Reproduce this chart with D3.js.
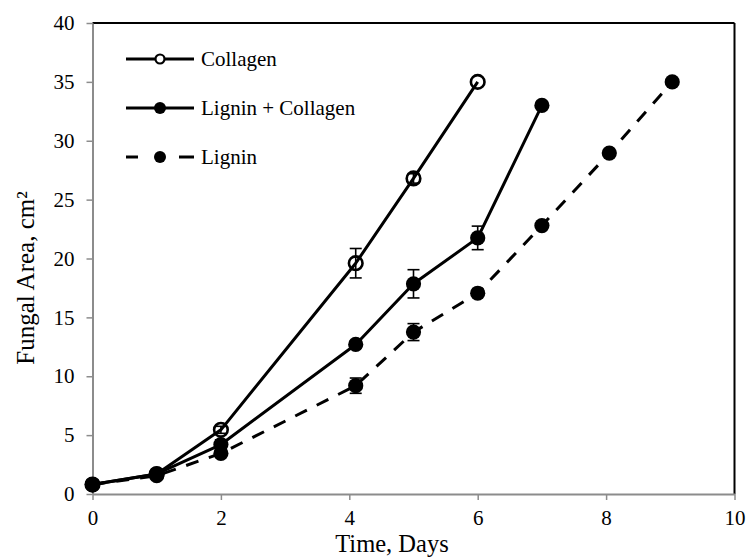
<!DOCTYPE html>
<html>
<head>
<meta charset="utf-8">
<script src="https://cdn.jsdelivr.net/npm/d3@7"></script>
<style>
  html, body { margin: 0; padding: 0; background: #fff; }
  svg { display: block; font-family: "Liberation Serif", "Times New Roman", serif; }
</style>
</head>
<body>
<svg id="chart" width="749" height="557"></svg>
<script>
// Fungal growth area over time for three substrates (mean ± error)
const collagenDays   = [0, 1, 2, 4.1, 5, 6];
const collagenArea   = [0.8, 1.7, 5.45, 19.6, 26.8, 35.0];
const collagenErr    = [0, 0, 0.3, 1.25, 0.4, 0];

const ligColDays     = [0, 1, 2, 4.1, 5, 6, 7];
const ligColArea     = [0.8, 1.7, 4.2, 12.7, 17.85, 21.75, 33.0];
const ligColErr      = [0, 0, 0.4, 0.3, 1.2, 1.0, 0];

const ligninDays     = [0, 1, 2, 4.1, 5, 6, 7, 8.05, 9.03];
const ligninArea     = [0.8, 1.55, 3.45, 9.2, 13.75, 17.05, 22.8, 28.95, 35.0];
const ligninErr      = [0, 0, 0, 0.65, 0.72, 0, 0, 0, 0];

const seriesNames    = ["Collagen", "Lignin + Collagen", "Lignin"];
const xTickValues    = [0, 2, 4, 6, 8, 10];
const yTickValues    = [0, 5, 10, 15, 20, 25, 30, 35, 40];
const xTitle         = "Time, Days";
const yTitle         = "Fungal Area, cm²";

const zip = (xs, ys, es) => xs.map((d, i) => ({ x: d, y: ys[i], e: es[i] }));
const series = [
  { name: seriesNames[0], pts: zip(collagenDays, collagenArea, collagenErr), open: true,  dashed: false },
  { name: seriesNames[1], pts: zip(ligColDays, ligColArea, ligColErr),       open: false, dashed: false },
  { name: seriesNames[2], pts: zip(ligninDays, ligninArea, ligninErr),       open: false, dashed: true  }
];

const svg = d3.select("#chart");
const plot = { left: 92.5, right: 734.5, top: 23, bottom: 494 };

const x = d3.scaleLinear().domain([0, 10]).range([plot.left, plot.right]);
const y = d3.scaleLinear().domain([0, 40]).range([plot.bottom, plot.top]);

const axisGray = "#8c8c8c";
const FONT_TICK = 21;

// frame: black top and right edges
svg.append("line").attr("x1", plot.left).attr("x2", plot.right)
  .attr("y1", plot.top).attr("y2", plot.top)
  .attr("stroke", "#000").attr("stroke-width", 2);
svg.append("line").attr("x1", plot.right).attr("x2", plot.right)
  .attr("y1", plot.top).attr("y2", plot.bottom)
  .attr("stroke", "#000").attr("stroke-width", 2);

// axes
const gx = svg.append("g")
  .attr("transform", `translate(0,${plot.bottom})`)
  .call(d3.axisBottom(x).tickValues(xTickValues).tickFormat(d3.format("d"))
    .tickSizeInner(6).tickSizeOuter(0).tickPadding(10.5));
const gy = svg.append("g")
  .attr("transform", `translate(${plot.left},0)`)
  .call(d3.axisLeft(y).tickValues(yTickValues).tickFormat(d3.format("d"))
    .tickSizeInner(6).tickSizeOuter(0).tickPadding(12));

[gx, gy].forEach(g => {
  g.attr("font-family", null).attr("font-size", null);
  g.select(".domain").attr("stroke", axisGray).attr("stroke-width", 2);
  g.selectAll(".tick line").attr("stroke", axisGray).attr("stroke-width", 1.5);
  g.selectAll(".tick text")
    .attr("fill", "#000")
    .style("font-family", '"Liberation Serif", "Times New Roman", serif')
    .style("font-size", FONT_TICK + "px");
});

// axis titles
svg.append("text")
  .attr("x", 392).attr("y", 551.5)
  .attr("text-anchor", "middle")
  .style("font-size", "24.5px")
  .text(xTitle);
svg.append("text")
  .attr("transform", "translate(34,278) rotate(-90)")
  .attr("text-anchor", "middle")
  .style("font-size", "25px")
  .text(yTitle);

// lines
const lineGen = d3.line().x(d => x(d.x)).y(d => y(d.y));
const gData = svg.append("g");

series.forEach(s => {
  gData.append("path")
    .datum(s.pts)
    .attr("d", lineGen)
    .attr("fill", "none")
    .attr("stroke", "#000")
    .attr("stroke-width", 3)
    .attr("stroke-linejoin", "round")
    .attr("stroke-dasharray", s.dashed ? "13,11" : null);
});

// error bars
series.forEach(s => {
  const eb = gData.append("g").selectAll("g")
    .data(s.pts.filter(d => d.e > 0))
    .join("g");
  eb.append("line")
    .attr("x1", d => x(d.x)).attr("x2", d => x(d.x))
    .attr("y1", d => y(d.y - d.e)).attr("y2", d => y(d.y + d.e))
    .attr("stroke", "#000").attr("stroke-width", 1.6);
  [-1, 1].forEach(sign => {
    eb.append("line")
      .attr("x1", d => x(d.x) - 6).attr("x2", d => x(d.x) + 6)
      .attr("y1", d => y(d.y + sign * d.e)).attr("y2", d => y(d.y + sign * d.e))
      .attr("stroke", "#000").attr("stroke-width", 1.6);
  });
});

// markers
series.forEach(s => {
  gData.append("g").selectAll("circle")
    .data(s.pts)
    .join("circle")
    .attr("cx", d => x(d.x))
    .attr("cy", d => y(d.y))
    .attr("r", s.open ? 6.8 : 7.6)
    .attr("fill", s.open ? "none" : "#000")
    .attr("stroke", s.open ? "#000" : "none")
    .attr("stroke-width", s.open ? 2.6 : 0);
});

// legend
const legend = svg.append("g");
const legendRows = [59, 108, 157];
series.forEach((s, i) => {
  const g = legend.append("g").attr("transform", `translate(0,${legendRows[i]})`);
  if (s.dashed) {
    [[126, 138], [179, 194]].forEach(([a, b]) => {
      g.append("line").attr("x1", a).attr("x2", b).attr("y1", 0).attr("y2", 0)
        .attr("stroke", "#000").attr("stroke-width", 3);
    });
  } else {
    g.append("line").attr("x1", 126).attr("x2", 194).attr("y1", 0).attr("y2", 0)
      .attr("stroke", "#000").attr("stroke-width", 3);
  }
  g.append("circle")
    .attr("cx", 160).attr("cy", 0)
    .attr("r", s.open ? 4.5 : 6)
    .attr("fill", s.open ? "#fff" : "#000")
    .attr("stroke", s.open ? "#000" : "none")
    .attr("stroke-width", s.open ? 2.2 : 0);
  g.append("text")
    .attr("x", 201).attr("y", 0)
    .attr("dy", "0.34em")
    .style("font-size", "21px")
    .text(s.name);
});
</script>
</body>
</html>
